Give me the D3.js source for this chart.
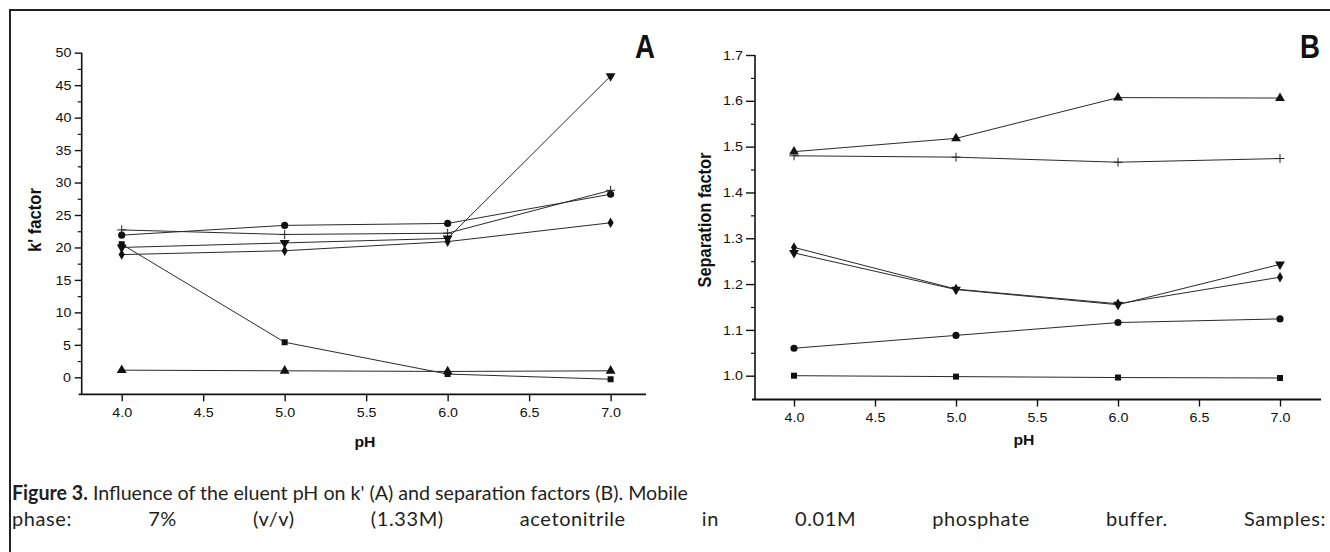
<!DOCTYPE html>
<html>
<head>
<meta charset="utf-8">
<script src="https://cdn.jsdelivr.net/npm/d3@7"></script>
<style>
  html, body { margin: 0; padding: 0; background: #fff; }
  svg { display: block; }
  .tick text { font-family: "Liberation Sans", Arial, sans-serif; font-size: 13px; fill: #111;
               transform-box: fill-box; transform-origin: center; transform: scaleX(1.1); }
</style>
</head>
<body>
<svg id="chart" width="1330" height="552"></svg>
<script>
// ---------- data ----------
const pH = [4.0, 5.0, 6.0, 7.0];

// Panel A: k' factor
const kSquare   = [20.5, 5.4, 0.5, -0.3];
const kTriUp    = [1.1, 1.0, 0.9, 1.0];
const kCircle   = [21.9, 23.4, 23.7, 28.2];
const kPlus     = [22.7, 22.0, 22.2, 28.8];
const kTriDown  = [20.0, 20.7, 21.4, 46.4];
const kDiamond  = [18.9, 19.5, 20.9, 23.8];

// Panel B: separation factor
const sTriUp    = [1.489, 1.518, 1.607, 1.606];
const sPlus     = [1.480, 1.477, 1.466, 1.474];
const sDiamond  = [1.280, 1.189, 1.157, 1.215];
const sTriDown  = [1.268, 1.188, 1.155, 1.243];
const sCircle   = [1.060, 1.088, 1.116, 1.124];
const sSquare   = [1.000, 0.998, 0.996, 0.995];

// tick values / labels
const xTicks  = [4.0, 4.5, 5.0, 5.5, 6.0, 6.5, 7.0];
const yTicksA = [0, 5, 10, 15, 20, 25, 30, 35, 40, 45, 50];
const yMinorA = [2.5, 7.5, 12.5, 17.5, 22.5, 27.5, 32.5, 37.5, 42.5, 47.5];
const yTicksB = [1.0, 1.1, 1.2, 1.3, 1.4, 1.5, 1.6, 1.7];
const yMinorB = [1.05, 1.15, 1.25, 1.35, 1.45, 1.55, 1.65];

const captionLine1Bold = "Figure 3.";
const captionLine1 = " Influence of the eluent pH on k' (A) and separation factors (B). Mobile";
const captionLine2 = ["phase:", "7%", "(v/v)", "(1.33M)", "acetonitrile", "in", "0.01M", "phosphate", "buffer.", "Samples:"];

// ---------- drawing ----------
const svg = d3.select("#chart");

// figure frame (top and left rules)
svg.append("path")
  .attr("d", "M10,552 V10 H1330")
  .attr("fill", "none").attr("stroke", "#222").attr("stroke-width", 2);

function symbolPath(kind) {
  if (kind === "plus") return "M-4.5,0H4.5M0,-4.5V4.5";
  const t = { square: d3.symbolSquare, circle: d3.symbolCircle, triUp: d3.symbolTriangle,
              triDown: d3.symbolTriangle, diamond: d3.symbolDiamond }[kind];
  const size = { square: 36, circle: 40, triUp: 42, triDown: 42, diamond: 32 }[kind];
  return d3.symbol().type(t).size(size)();
}

function panel(cfg) {
  const g = svg.append("g");
  const x = d3.scaleLinear().domain([4.0, 7.0]).range(cfg.xRange);
  const y = d3.scaleLinear().domain(cfg.yDomain).range(cfg.yRange);

  // y axis (major)
  const yAx = g.append("g").attr("transform", `translate(${cfg.yAxisX},0)`)
    .call(d3.axisLeft(y).tickValues(cfg.yTicks).tickFormat(cfg.yFormat)
      .tickSize(cfg.majorTick).tickPadding(4).tickSizeOuter(0));
  yAx.select(".domain").remove();
  yAx.selectAll(".tick line").attr("stroke", "#111").attr("stroke-width", 1.4);
  // y axis (minor)
  const yMin = g.append("g").attr("transform", `translate(${cfg.yAxisX},0)`)
    .call(d3.axisLeft(y).tickValues(cfg.yMinor).tickFormat("").tickSize(4).tickSizeOuter(0));
  yMin.select(".domain").remove();
  yMin.selectAll(".tick line").attr("stroke", "#111").attr("stroke-width", 1.2);

  // x axis
  const xAx = g.append("g").attr("transform", `translate(0,${cfg.xAxisY})`)
    .call(d3.axisBottom(x).tickValues(xTicks).tickFormat(d3.format(".1f"))
      .tickSize(7).tickPadding(6).tickSizeOuter(0));
  xAx.select(".domain").remove();
  xAx.selectAll(".tick line").attr("stroke", "#111").attr("stroke-width", 1.4);

  // axis lines
  g.append("line").attr("x1", cfg.yAxisX).attr("x2", cfg.yAxisX)
    .attr("y1", y(cfg.yDomain[1])).attr("y2", cfg.xAxisY)
    .attr("stroke", "#111").attr("stroke-width", 1.6);
  g.append("line").attr("x1", cfg.yAxisX - 3).attr("x2", cfg.xAxisEnd)
    .attr("y1", cfg.xAxisY).attr("y2", cfg.xAxisY)
    .attr("stroke", "#111").attr("stroke-width", 1.8);

  // series
  const line = d3.line().x((d, i) => x(pH[i])).y(d => y(d));
  cfg.series.forEach(s => {
    g.append("path").datum(s.values).attr("d", line)
      .attr("fill", "none").attr("stroke", "#2a2a2a").attr("stroke-width", 1);
  });
  cfg.series.forEach(s => {
    const p = symbolPath(s.kind);
    g.selectAll(null).data(s.values).join("path")
      .attr("d", p)
      .attr("transform", (d, i) => `translate(${x(pH[i])},${y(d)})` + (s.kind === "triDown" ? " rotate(180)" : ""))
      .attr("fill", s.kind === "plus" ? "none" : "#111")
      .attr("stroke", s.kind === "plus" ? "#222" : "none")
      .attr("stroke-width", 1);
  });

  // axis titles
  g.append("text")
    .attr("transform", `translate(${cfg.yTitleX},${cfg.yTitleY}) rotate(-90)`)
    .attr("text-anchor", "middle").attr("dominant-baseline", "central")
    .attr("font-family", "Liberation Sans, Arial, sans-serif").attr("font-weight", "bold")
    .attr("font-size", 18).attr("fill", "#111")
    .attr("textLength", cfg.yTitleLen).attr("lengthAdjust", "spacingAndGlyphs")
    .text(cfg.yTitle);
  g.append("text")
    .attr("x", cfg.xTitleX).attr("y", cfg.xTitleY)
    .attr("text-anchor", "middle")
    .attr("font-family", "Liberation Sans, Arial, sans-serif").attr("font-weight", "bold")
    .attr("font-size", 15.5).attr("fill", "#111")
    .attr("textLength", 21).attr("lengthAdjust", "spacingAndGlyphs")
    .text("pH");

  // panel letter
  g.append("text")
    .attr("x", cfg.letterX).attr("y", 58)
    .attr("font-family", "Liberation Sans, Arial, sans-serif").attr("font-weight", "bold")
    .attr("font-size", 33).attr("fill", "#111")
    .attr("textLength", 20).attr("lengthAdjust", "spacingAndGlyphs")
    .text(cfg.letter);
}

panel({
  xRange: [121.7, 610.6], yDomain: [0, 50], yRange: [377.3, 52.7],
  yAxisX: 81.7, xAxisY: 394.3, xAxisEnd: 646,
  yTicks: yTicksA, yMinor: yMinorA, yFormat: d3.format("d"), majorTick: 7,
  yTitle: "k' factor", yTitleX: 35, yTitleY: 220, yTitleLen: 64,
  xTitleX: 365, xTitleY: 447,
  letter: "A", letterX: 635,
  series: [
    { kind: "triUp", values: kTriUp },
    { kind: "square", values: kSquare },
    { kind: "circle", values: kCircle },
    { kind: "plus", values: kPlus },
    { kind: "triDown", values: kTriDown },
    { kind: "diamond", values: kDiamond }
  ]
});

panel({
  xRange: [794, 1280], yDomain: [1.0, 1.7], yRange: [375.7, 55],
  yAxisX: 755, xAxisY: 399.5, xAxisEnd: 1321,
  yTicks: yTicksB, yMinor: yMinorB, yFormat: d3.format(".1f"), majorTick: 9,
  yTitle: "Separation factor", yTitleX: 705, yTitleY: 220, yTitleLen: 135,
  xTitleX: 1024, xTitleY: 445,
  letter: "B", letterX: 1300,
  series: [
    { kind: "triUp", values: sTriUp },
    { kind: "plus", values: sPlus },
    { kind: "diamond", values: sDiamond },
    { kind: "triDown", values: sTriDown },
    { kind: "circle", values: sCircle },
    { kind: "square", values: sSquare }
  ]
});

// ---------- caption ----------
const capFont = "Lato, 'Noto Sans', sans-serif";
const l1 = svg.append("text").attr("x", 12).attr("y", 500)
  .attr("font-family", capFont).attr("font-size", 20).attr("fill", "#231f20")
  .attr("textLength", 676).attr("lengthAdjust", "spacingAndGlyphs");
l1.append("tspan").attr("font-weight", "bold").text(captionLine1Bold);
l1.append("tspan").text(captionLine1);

const l2 = svg.append("g").attr("font-family", capFont).attr("font-size", 20)
  .attr("fill", "#231f20").attr("letter-spacing", 0.6);
const words = l2.selectAll("text").data(captionLine2).join("text")
  .attr("y", 526).text(d => d);
const widths = [];
words.each(function() { widths.push(this.getComputedTextLength()); });
const total = d3.sum(widths);
const gap = (1326 - 12 - total) / (captionLine2.length - 1);
let cx = 12;
words.attr("x", (d, i) => { const v = cx; cx += widths[i] + gap; return v; });
</script>
</body>
</html>
